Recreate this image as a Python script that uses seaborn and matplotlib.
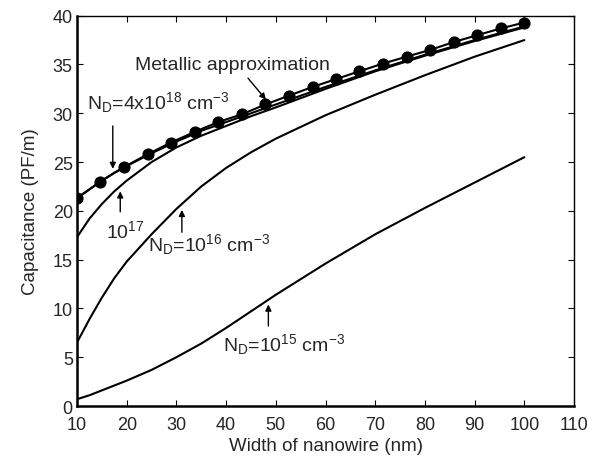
import matplotlib
matplotlib.use("Agg")
import matplotlib.pyplot as plt
import seaborn as sns

# ---- data ----
x_metal = [10, 14.7, 19.5, 24.2, 28.9, 33.7, 38.4, 43.2, 47.9, 52.6,
           57.4, 62.1, 66.8, 71.6, 76.3, 81.1, 85.8, 90.5, 95.3, 100]
y_metal = [21.3, 23.0, 24.5, 25.8, 27.0, 28.1, 29.1, 29.9, 30.9, 31.8,
           32.7, 33.5, 34.3, 35.1, 35.8, 36.5, 37.3, 38.0, 38.7, 39.3]

x_curve = [10, 12.5, 15, 17.5, 20, 25, 30, 35, 40, 45, 50, 60, 70, 80, 90, 100]
y_4e18 = [21.3, 22.2, 23.1, 23.9, 24.6, 25.9, 27.1, 28.2, 29.1, 30.0, 30.9,
          32.7, 34.4, 36.0, 37.5, 38.9]
y_1e17 = [17.3, 19.2, 20.7, 22.0, 23.1, 25.0, 26.5, 27.7, 28.7, 29.7, 30.6,
          32.5, 34.3, 35.9, 37.4, 38.8]
y_1e16 = [6.5, 8.9, 11.1, 13.1, 14.8, 17.6, 20.2, 22.5, 24.4, 26.0, 27.4,
          29.8, 31.9, 33.9, 35.8, 37.5]
y_1e15 = [0.7, 1.1, 1.6, 2.1, 2.6, 3.7, 5.0, 6.4, 8.0, 9.7, 11.4,
          14.6, 17.6, 20.3, 22.9, 25.5]

x_ticks = list(range(10, 111, 10))
y_ticks = list(range(0, 41, 5))

# ---- style ----
sns.set_style("ticks")
plt.rcParams["font.family"] = ["Liberation Sans", "DejaVu Sans"]
plt.rcParams["mathtext.fontset"] = "custom"
plt.rcParams["mathtext.rm"] = "Liberation Sans"
plt.rcParams["mathtext.it"] = "Liberation Sans:italic"
plt.rcParams["mathtext.bf"] = "Liberation Sans:bold"
plt.rcParams["xtick.direction"] = "in"
plt.rcParams["ytick.direction"] = "in"

fig = plt.figure(figsize=(6.03, 4.60), dpi=100)
ax = fig.add_axes([0.1277, 0.1152, 0.952 - 0.1277, 0.9637 - 0.1152])

lw = 1.5
sns.lineplot(x=x_metal, y=y_metal, ax=ax, color="black", lw=lw,
             marker="o", markersize=8, markeredgecolor="black",
             markerfacecolor="black", sort=False)
for yy in (y_4e18, y_1e17, y_1e16, y_1e15):
    sns.lineplot(x=x_curve, y=yy, ax=ax, color="black", lw=lw, sort=False)

ax.set_xlim(10, 110)
ax.set_ylim(0, 40)
ax.set_xticks(x_ticks)
ax.set_yticks(y_ticks)
ax.tick_params(axis="both", which="both", labelsize=13, length=4,
               top=True, right=True, color="black")
ax.tick_params(axis="x", pad=7)
ax.tick_params(axis="y", pad=3)
ax.set_xlabel("Width of nanowire (nm)", fontsize=13.5, labelpad=3)
ax.set_ylabel("Capacitance (PF/m)", fontsize=13.5, labelpad=10)
for s in ("left", "bottom"):
    ax.spines[s].set_linewidth(1.8)
for s in ("top", "right"):
    ax.spines[s].set_linewidth(1.0)
for s in ax.spines.values():
    s.set_color("black")

fs = 14
arrow = dict(arrowstyle="-|>", color="black", lw=1.0,
             mutation_scale=9, shrinkA=0, shrinkB=0)

ax.text(41.2, 35.0, "Metallic approximation", fontsize=fs,
        ha="center", va="center")
ax.annotate("", xy=(48.0, 31.4), xytext=(44.4, 33.6), arrowprops=arrow)

ax.text(12.0, 31.2, r"N$_\mathrm{D}$=4x10$^{18}$ cm$^{-3}$", fontsize=fs,
        ha="left", va="center")
ax.annotate("", xy=(17.2, 24.3), xytext=(17.2, 28.7), arrowprops=arrow)

ax.text(15.9, 18.0, r"10$^{17}$", fontsize=fs, ha="left", va="center")
ax.annotate("", xy=(18.7, 22.0), xytext=(18.7, 19.9), arrowprops=arrow)

ax.text(24.3, 16.6, r"N$_\mathrm{D}$=10$^{16}$ cm$^{-3}$", fontsize=fs,
        ha="left", va="center")
ax.annotate("", xy=(31.1, 20.1), xytext=(31.1, 17.8), arrowprops=arrow)

ax.text(39.4, 6.4, r"N$_\mathrm{D}$=10$^{15}$ cm$^{-3}$", fontsize=fs,
        ha="left", va="center")
ax.annotate("", xy=(48.5, 10.4), xytext=(48.5, 8.2), arrowprops=arrow)

fig.savefig("out.png", dpi=100)
